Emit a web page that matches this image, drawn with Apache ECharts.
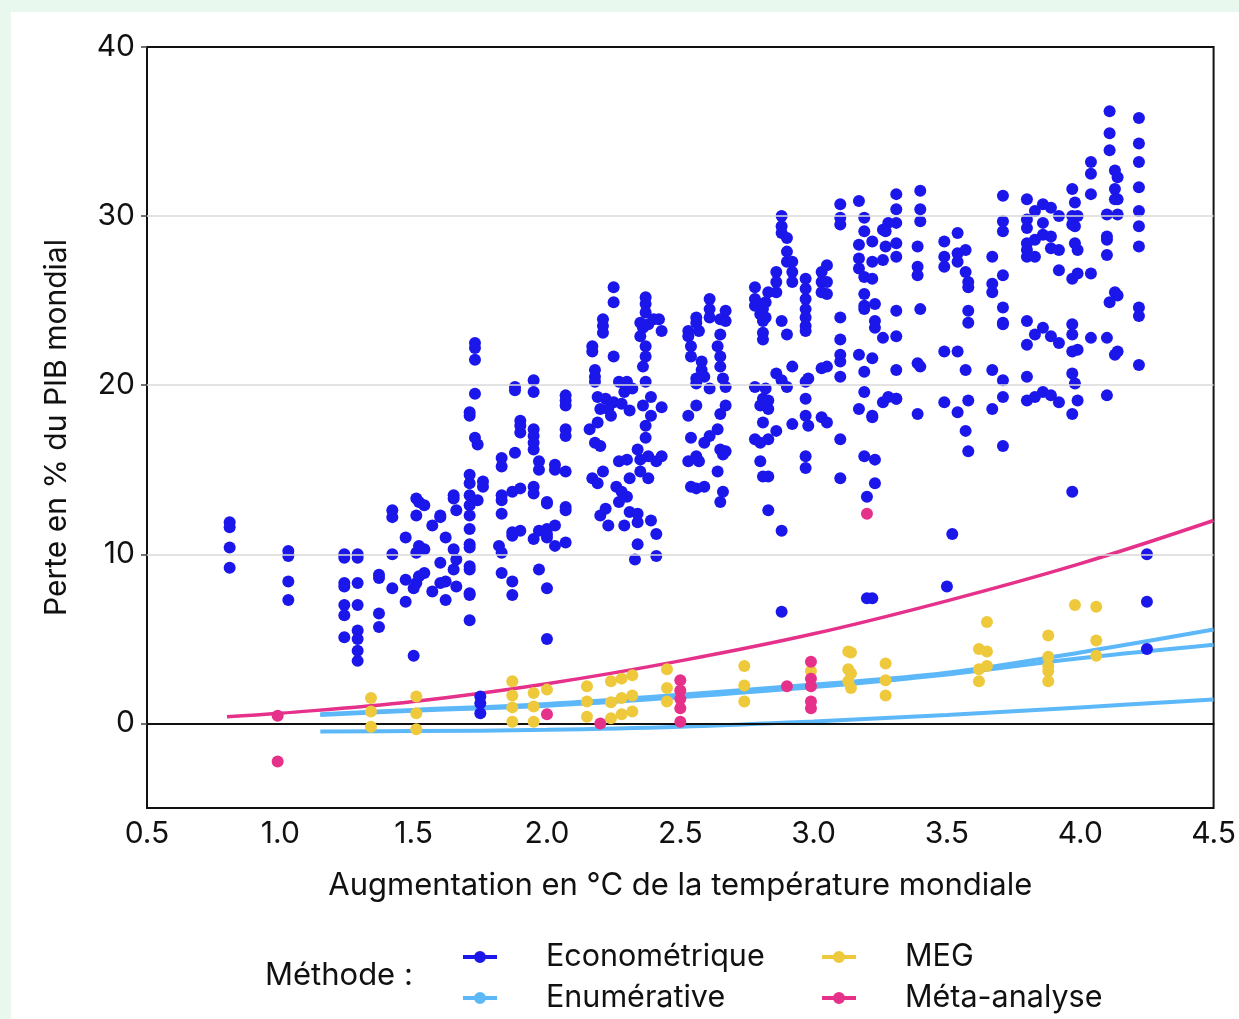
<!DOCTYPE html>
<html>
<head>
<meta charset="utf-8">
<script src="https://cdn.jsdelivr.net/npm/echarts@6/dist/echarts.min.js"></script>
<style>
  html, body { margin: 0; padding: 0; background: #e8f8ef; }
  #main { width: 1239px; height: 1019px; }
</style>
</head>
<body>
<div id="main"></div>
<script>
// points [temperature °C, loss % GDP]
var econometrique = [
  [0.81,11.9],[0.81,11.6],[0.81,10.4],[0.81,9.2],
  [1.03,10.2],[1.03,9.9],[1.03,8.4],[1.03,7.3],
  [1.24,10.0],[1.24,9.8],[1.24,8.3],[1.24,8.1],[1.24,7.0],[1.24,6.4],[1.24,5.1],
  [1.29,10.0],[1.29,9.8],[1.29,8.3],[1.29,7.0],[1.29,5.5],[1.29,5.0],[1.29,4.3],[1.29,3.7],
  [1.37,8.8],[1.37,8.6],[1.37,6.5],[1.37,5.7],
  [1.42,12.6],[1.42,12.2],[1.42,10.0],[1.42,8.0],
  [1.47,11.0],[1.47,8.5],[1.47,7.2],
  [1.51,13.3],[1.52,13.1],[1.54,12.9],[1.51,12.3],[1.52,10.5],[1.54,10.3],[1.51,10.1],[1.50,8.0],[1.51,8.3],[1.52,8.7],[1.54,8.9],[1.50,4.0],
  [1.57,11.7],[1.57,7.8],
  [1.60,12.3],[1.60,12.2],[1.62,11.0],[1.60,9.5],[1.62,8.4],[1.60,8.3],[1.62,7.3],
  [1.65,13.5],[1.65,13.3],[1.66,12.6],[1.65,10.3],[1.66,9.7],[1.65,9.1],[1.66,8.1],
  [1.73,22.5],[1.73,22.2],[1.73,21.5],[1.73,19.5],[1.71,18.4],[1.71,18.2],[1.73,16.9],[1.74,16.5],[1.71,14.7],[1.71,14.2],[1.71,13.5],[1.71,12.9],[1.71,12.3],[1.74,13.2],[1.76,14.3],[1.76,14.0],[1.71,11.5],[1.71,10.6],[1.71,10.4],[1.71,9.1],[1.71,9.3],[1.71,7.7],[1.71,7.6],[1.71,6.1],
  [1.75,1.6],[1.75,1.2],[1.75,0.6],
  [1.83,15.7],[1.83,15.2],[1.88,16.0],[1.83,13.5],[1.83,13.2],[1.83,12.4],[1.82,10.5],[1.83,10.1],[1.83,8.9],[1.87,8.4],[1.87,7.6],
  [1.88,19.9],[1.88,19.7],[1.90,17.9],[1.90,17.6],[1.90,17.2],[1.87,13.7],[1.90,13.9],[1.87,11.3],[1.87,11.1],[1.90,11.4],
  [1.95,20.3],[1.95,19.6],[1.95,17.4],[1.95,17.0],[1.95,16.2],[1.95,16.6],[1.97,15.5],[1.97,15.0],[1.95,14.0],[1.95,13.6],[1.97,11.4],[1.95,10.9],[1.97,9.1],[2.0,13.0],[2.0,11.5],[2.0,11.0],[2.0,8.0],[2.0,5.0],
  [2.03,15.3],[2.03,15.0],[2.0,13.1],[2.03,11.7],[2.03,10.5],[2.0,11.2],
  [2.07,19.4],[2.07,19.1],[2.07,18.8],[2.07,17.4],[2.07,17.0],[2.07,14.9],[2.07,12.8],[2.07,12.6],[2.07,10.7],
  [2.17,22.3],[2.17,22.0],[2.18,20.9],[2.18,20.5],[2.18,20.2],[2.16,17.4],[2.18,16.6],[2.20,16.4],[2.17,14.5],[2.19,14.2],[2.21,14.9],[2.20,12.3],[2.22,12.7],[2.19,19.3],[2.20,18.6],[2.19,17.8],
  [2.21,23.9],[2.21,23.5],[2.21,23.1],[2.25,25.8],[2.25,24.9],[2.25,21.7],[2.27,20.2],[2.29,20.1],[2.30,20.2],[2.22,19.2],[2.23,18.6],[2.24,18.2],[2.26,14.0],[2.28,13.7],[2.30,13.4],[2.31,14.5],[2.27,13.1],[2.23,11.7],[2.29,11.7],[2.31,12.5],[2.34,12.4],[2.34,11.9],[2.34,10.6],[2.33,9.7],[2.27,15.5],[2.30,15.6],
  [2.25,19.0],[2.28,18.9],[2.31,18.5],[2.29,19.6],[2.32,19.8],
  [2.37,25.2],[2.37,24.8],[2.37,24.3],[2.35,23.7],[2.36,23.4],[2.38,23.6],[2.40,23.9],[2.42,23.9],[2.43,23.2],[2.35,22.9],[2.37,22.3],[2.37,21.7],[2.36,21.1],[2.37,20.2],[2.39,19.3],[2.39,18.2],[2.37,17.6],[2.37,16.9],[2.34,16.2],[2.35,15.6],[2.38,15.8],[2.41,15.5],[2.43,15.8],[2.35,14.9],[2.38,14.5],[2.39,12.0],[2.41,11.2],[2.41,9.9],[2.43,18.7],[2.36,18.8],
  [2.53,23.2],[2.53,22.9],[2.54,22.3],[2.54,21.7],[2.56,24.0],[2.56,23.7],[2.57,23.2],[2.56,20.4],[2.56,20.1],[2.58,21.4],[2.58,20.9],[2.59,20.5],[2.61,19.8],[2.61,25.1],[2.61,24.5],[2.61,24.0],[2.56,18.8],[2.53,18.2],[2.54,16.9],[2.56,15.8],[2.53,15.5],[2.57,15.5],[2.54,14.0],[2.56,13.9],[2.59,14.0],[2.59,16.6],[2.61,17.0],
  [2.65,23.9],[2.65,23.0],[2.64,22.3],[2.65,21.7],[2.65,21.1],[2.66,20.4],[2.67,19.9],[2.67,24.4],[2.67,23.8],[2.65,18.3],[2.67,18.8],[2.64,17.4],[2.65,16.2],[2.66,15.9],[2.67,16.1],[2.64,14.9],[2.66,13.7],[2.65,13.1],
  [2.78,25.8],[2.78,25.1],[2.78,24.7],[2.80,24.8],[2.81,24.5],[2.82,24.9],[2.80,24.2],[2.82,24.0],[2.81,23.8],[2.81,23.1],[2.81,22.7],[2.83,25.5],
  [2.86,26.7],[2.86,26.1],[2.86,25.5],[2.88,30.0],[2.88,29.4],[2.88,29.0],[2.90,28.7],[2.90,27.9],[2.90,27.3],[2.92,27.3],[2.92,26.7],[2.92,26.1],
  [2.97,26.3],[2.97,25.7],[2.97,25.1],[2.97,24.5],[2.97,24.0],[2.97,23.5],[2.97,23.2],
  [3.03,26.7],[3.03,26.1],[3.03,25.5],[3.05,27.1],[3.05,26.1],[3.05,25.4],
  [3.10,30.7],[3.10,29.9],[3.10,29.5],
  [2.88,23.8],[2.90,23.0],[3.10,24.0],[3.10,22.7],[3.10,21.8],[3.10,21.4],[3.10,20.5],[2.92,21.1],[2.86,20.7],[2.88,20.3],[2.90,19.9],[2.78,19.9],[2.82,19.8],[2.81,19.2],[2.83,19.1],[2.80,18.8],[2.83,18.6],[2.97,20.2],[2.98,20.4],[2.97,19.2],[3.03,21.0],[3.05,21.1],[2.81,17.8],[2.86,17.3],[2.92,17.7],[2.78,16.8],[2.80,16.6],[2.83,16.8],[2.97,18.2],[2.98,17.6],[3.03,18.1],[3.05,17.8],[3.10,16.8],[2.97,15.8],[2.97,15.1],[2.80,15.5],[2.81,14.6],[2.83,14.6],[3.10,14.5],[2.83,12.6],[2.88,11.4],[2.88,6.6],
  [3.17,30.9],[3.19,29.9],[3.19,29.1],[3.17,28.3],[3.22,28.5],[3.17,27.5],[3.17,26.9],[3.19,26.4],[3.22,26.3],[3.22,27.3],[3.19,25.4],[3.19,24.7],[3.19,24.5],[3.23,24.8],[3.23,23.8],[3.23,23.4],[3.26,22.8],[3.31,22.9],[3.17,21.8],[3.22,21.6],[3.19,20.8],[3.31,20.9],[3.19,19.6],[3.17,18.6],[3.22,18.2],[3.22,18.1],[3.26,19.0],[3.28,19.3],[3.31,19.2],[3.19,15.8],[3.23,15.6],[3.23,14.2],[3.20,13.4],
  [3.27,29.1],[3.27,28.2],[3.26,27.4],[3.31,31.3],[3.31,30.4],[3.31,29.6],[3.31,28.4],[3.31,27.6],[3.28,29.6],[3.26,29.2],
  [3.20,7.4],[3.22,7.4],
  [3.40,31.5],[3.40,30.4],[3.40,29.7],[3.39,28.2],[3.39,27.0],[3.39,26.5],[3.40,24.5],[3.31,24.4],[3.39,21.3],[3.40,21.1],[3.39,18.3],[3.31,19.2],
  [3.49,28.5],[3.49,27.6],[3.49,27.0],[3.54,29.0],[3.54,27.8],[3.54,27.3],[3.57,28.0],[3.57,26.7],[3.58,26.1],[3.58,25.8],[3.58,24.4],[3.58,23.7],[3.49,22.0],[3.54,22.0],[3.57,20.9],[3.49,19.0],[3.54,18.4],[3.58,19.1],[3.57,17.3],[3.58,16.1],
  [3.52,11.2],[3.50,8.1],
  [3.71,31.2],[3.71,29.7],[3.71,29.1],[3.67,27.6],[3.71,26.5],[3.67,26.0],[3.67,25.5],[3.71,24.6],[3.71,23.7],[3.71,23.6],[3.67,20.9],[3.71,20.3],[3.71,19.3],[3.67,18.6],[3.71,16.4],
  [3.80,31.0],[3.80,29.8],[3.80,29.3],[3.83,30.3],[3.86,30.7],[3.89,30.5],[3.92,30.0],[3.86,29.6],[3.80,28.4],[3.80,28.0],[3.80,27.6],[3.83,28.6],[3.83,27.6],[3.86,28.9],[3.89,28.8],[3.89,28.1],[3.92,28.0],[3.92,26.8],[3.97,31.6],[3.98,30.8],[3.97,30.0],[3.99,30.0],[3.97,29.5],[3.98,29.4],[3.98,28.4],[3.99,28.0],[3.97,26.3],[3.99,26.6],[4.04,33.2],[4.04,32.5],[4.04,31.3],[4.04,26.6],
  [3.80,23.8],[3.83,23.0],[3.86,23.4],[3.89,22.9],[3.92,22.5],[3.80,22.4],[3.80,20.5],[3.97,23.6],[3.97,23.0],[3.99,22.1],[4.04,22.8],[3.97,22.0],[3.97,20.7],[3.98,20.1],[3.80,19.1],[3.83,19.3],[3.86,19.6],[3.89,19.4],[3.92,19.0],[3.99,19.1],[3.97,18.3],[3.97,13.7],
  [4.11,36.2],[4.11,34.9],[4.11,33.9],[4.13,32.7],[4.14,32.3],[4.13,31.6],[4.13,31.0],[4.14,31.0],[4.10,30.1],[4.14,30.1],[4.10,28.8],[4.10,28.6],[4.10,27.7],[4.13,25.5],[4.14,25.3],[4.11,24.9],[4.10,22.8],[4.13,21.8],[4.14,22.0],[4.10,19.4],
  [4.22,35.8],[4.22,34.3],[4.22,33.2],[4.22,31.7],[4.22,30.3],[4.22,29.4],[4.22,28.2],[4.22,24.6],[4.22,24.1],[4.22,21.2],
  [4.25,10.0],[4.25,7.2],[4.25,4.4]
];

var meg = [
  [1.34,1.5],[1.34,0.7],[1.34,-0.2],
  [1.51,1.6],[1.51,0.6],[1.51,-0.35],
  [1.87,2.5],[1.87,1.65],[1.87,0.95],[1.87,0.1],
  [1.95,1.8],[1.95,1.0],[1.95,0.1],
  [2.0,2.0],
  [2.15,2.2],[2.15,1.3],[2.15,0.4],
  [2.24,2.5],[2.24,1.25],[2.24,0.3],
  [2.28,2.65],[2.28,1.5],[2.28,0.55],
  [2.32,2.85],[2.32,1.65],[2.32,0.7],
  [2.45,3.2],[2.45,2.1],[2.45,1.3],
  [2.74,3.4],[2.74,2.25],[2.74,1.3],
  [2.99,3.1],
  [3.13,4.25],[3.14,4.2],[3.13,3.2],[3.14,2.95],[3.13,2.5],[3.14,2.1],
  [3.27,3.55],[3.27,2.55],[3.27,1.65],
  [3.65,6.0],[3.62,4.4],[3.65,4.25],[3.65,3.4],[3.62,3.2],[3.62,2.5],
  [3.88,5.2],[3.88,3.95],[3.88,3.4],[3.88,3.1],[3.88,2.5],
  [3.98,7.0],[4.06,6.9],[4.06,4.9],[4.06,4.0]
];

var metaPoints = [
  [0.99,0.45],[0.99,-2.25],[2.0,0.55],[2.2,0.0],
  [2.5,2.55],[2.5,1.95],[2.5,1.45],[2.5,0.9],[2.5,0.1],
  [2.9,2.2],[2.99,3.65],[2.99,2.65],[2.99,2.2],[2.99,1.3],[2.99,0.9],
  [3.2,12.4]
];

// fitted curves
var metaCurve = [[0.8,0.4],[1.0,0.6],[1.5,1.3],[2.0,2.35],[2.5,3.7],[3.0,5.3],[3.5,7.25],[4.0,9.45],[4.5,12.0]];
var enumCurveA = [[1.15,0.55],[1.5,0.8],[2.0,1.15],[2.5,1.7],[3.0,2.3],[3.5,3.0],[4.0,4.2],[4.5,5.55]];
var enumCurveB = [[1.15,0.5],[1.5,0.75],[2.0,1.05],[2.5,1.55],[3.0,2.15],[3.5,2.9],[4.0,3.85],[4.5,4.65]];
var enumCurveC = [[1.15,-0.47],[1.5,-0.45],[2.0,-0.38],[2.5,-0.2],[3.0,0.12],[3.5,0.5],[4.0,0.95],[4.5,1.42]];

var yTicks = [0, 10, 20, 30, 40];
var gridValues = [10, 20, 30];

var C_ECO = '#1b17eb', C_ENUM = '#5cb8f8', C_MEG = '#eec93c', C_META = '#e6318a';
var FONT = 'Inter, "Noto Sans", sans-serif';
var legendIcon = 'path://M0,4h34v4h-34z M17,0a6,6 0 1,1 0,12a6,6 0 1,1 0,-12z';

var myChart = echarts.init(document.getElementById('main'));

function enumLine(data) {
  return {
    name: 'Enumérative', type: 'line', data: data, smooth: 0.4,
    showSymbol: false, silent: true, z: 3,
    lineStyle: { color: C_ENUM, width: 4 }, itemStyle: { color: C_ENUM }
  };
}

function legendBlock(left, items) {
  return {
    left: left, top: 940, orient: 'vertical', itemGap: 7, padding: 0, height: 79,
    itemWidth: 34, itemHeight: 12, selectedMode: false,
    textStyle: { fontSize: 30.5, color: '#111', lineHeight: 34, padding: [0, 0, 0, 44] },
    data: items.map(function (it) {
      return { name: it[0], icon: legendIcon, itemStyle: { color: it[1] } };
    })
  };
}

var option = {
  backgroundColor: '#e8f8ef',
  animation: false,
  textStyle: { fontFamily: FONT },
  graphic: [
    { type: 'rect', left: 11, top: 12, z: -10, shape: { width: 1228, height: 1007 }, style: { fill: '#ffffff' } },
    { type: 'text', left: 265, top: 960, style: { text: 'Méthode :', font: '31px ' + FONT, fill: '#111' } }
  ],
  grid: {
    left: 147, right: 24, top: 47, bottom: 211,
    show: true, borderColor: '#111', borderWidth: 2, backgroundColor: 'transparent'
  },
  legend: [
    legendBlock(463, [['Econométrique', C_ECO], ['Enumérative', C_ENUM]]),
    legendBlock(822, [['MEG', C_MEG], ['Méta-analyse', C_META]])
  ],
  xAxis: {
    type: 'value', min: 0.5, max: 4.5, interval: 0.5,
    name: 'Augmentation en °C de la température mondiale',
    nameLocation: 'middle', nameGap: 62,
    nameTextStyle: { fontSize: 31, color: '#111' },
    axisLine: { show: true, lineStyle: { color: '#111', width: 2 } },
    axisTick: { show: false },
    axisLabel: { fontSize: 30, color: '#111', margin: 11, formatter: function (v) { return v.toFixed(1); } },
    splitLine: { show: false }
  },
  yAxis: {
    type: 'value', min: -5, max: 40, interval: 5,
    name: 'Perte en % du PIB mondial',
    nameLocation: 'middle', nameGap: 75,
    nameTextStyle: { fontSize: 30, color: '#111' },
    axisLine: { show: true, lineStyle: { color: '#111', width: 2 } },
    axisTick: { show: true, customValues: yTicks, length: 6, lineStyle: { color: '#444', width: 1.5 } },
    axisLabel: { fontSize: 30, color: '#111', margin: 12, customValues: yTicks },
    splitLine: { show: false }
  },
  series: [
    {
      name: 'grid', type: 'line', data: [], silent: true, z: 1,
      markLine: {
        silent: true, symbol: 'none', label: { show: false }, animation: false,
        data: gridValues.map(function (v) {
          return { yAxis: v, lineStyle: { color: '#dadada', width: 1.5, type: 'solid' } };
        }).concat([{ yAxis: 0, lineStyle: { color: '#111', width: 2, type: 'solid' } }])
      }
    },
    enumLine(enumCurveA),
    enumLine(enumCurveB),
    enumLine(enumCurveC),
    {
      name: 'Méta-analyse', type: 'line', data: metaCurve, smooth: 0.4,
      showSymbol: false, silent: true, z: 3,
      lineStyle: { color: C_META, width: 3.5 }, itemStyle: { color: C_META }
    },
    {
      name: 'Econométrique', type: 'scatter', data: econometrique, symbolSize: 12, z: 4,
      itemStyle: { color: C_ECO, opacity: 1 }
    },
    {
      name: 'MEG', type: 'scatter', data: meg, symbolSize: 12, z: 5,
      itemStyle: { color: C_MEG, opacity: 1 }
    },
    {
      name: 'Méta-analyse', type: 'scatter', data: metaPoints, symbolSize: 12, z: 6,
      itemStyle: { color: C_META, opacity: 1 }
    }
  ]
};
myChart.setOption(option);
</script>
</body>
</html>
